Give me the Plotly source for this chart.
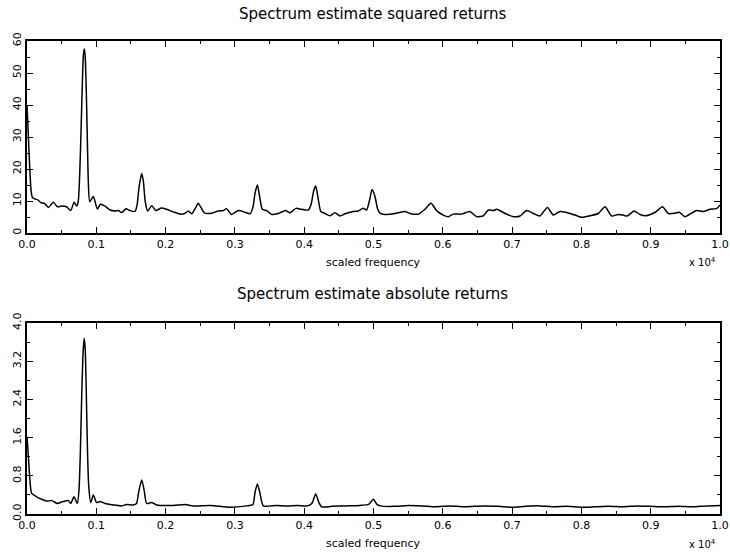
import plotly.graph_objects as go

# ---- data ----
freq_sq = [0.000, 0.002, 0.004, 0.006, 0.008, 0.012, 0.016, 0.020, 0.025, 0.031,
           0.038, 0.044, 0.050, 0.057, 0.063, 0.068, 0.0717, 0.074, 0.076, 0.078,
           0.080, 0.0815, 0.0828, 0.084, 0.0855, 0.087, 0.0885, 0.0905, 0.0957, 0.1015,
           0.106, 0.1126, 0.120, 0.127, 0.132, 0.1366, 0.143, 0.1486, 0.156, 0.159,
           0.1615, 0.1655, 0.168, 0.1705, 0.174, 0.180, 0.186, 0.194, 0.2016, 0.211,
           0.221, 0.227, 0.233, 0.2376, 0.243, 0.247, 0.251, 0.256, 0.2665, 0.276,
           0.283, 0.288, 0.295, 0.305, 0.3146, 0.3218, 0.326, 0.329, 0.3325, 0.336,
           0.3396, 0.346, 0.353, 0.3627, 0.373, 0.3795, 0.388, 0.396, 0.406, 0.410,
           0.4135, 0.4166, 0.420, 0.424, 0.430, 0.437, 0.4444, 0.4517, 0.459, 0.471,
           0.478, 0.485, 0.490, 0.494, 0.498, 0.502, 0.506, 0.509, 0.5166, 0.531,
           0.5455, 0.5527, 0.5647, 0.574, 0.583, 0.591, 0.6007, 0.608, 0.615, 0.627,
           0.639, 0.649, 0.6585, 0.6657, 0.673, 0.678, 0.690, 0.7017, 0.7114, 0.721,
           0.7306, 0.740, 0.751, 0.7595, 0.769, 0.7788, 0.788, 0.800, 0.8124, 0.8244,
           0.834, 0.8437, 0.853, 0.860, 0.8663, 0.876, 0.8846, 0.893, 0.906, 0.917,
           0.9254, 0.935, 0.9413, 0.9495, 0.959, 0.9664, 0.976, 0.9856, 0.995, 1.000]
spec_sq = [40.0, 30.0, 20.0, 13.0, 11.0, 10.6, 10.3, 9.5, 9.3, 8.0,
           9.6, 8.2, 8.4, 8.2, 7.0, 9.6, 8.4, 10.0, 18.0, 32.0,
           48.0, 56.0, 57.5, 55.0, 45.0, 30.0, 16.0, 9.8, 11.4, 7.5,
           9.0, 8.4, 7.2, 6.9, 7.0, 6.4, 7.6, 7.0, 6.8, 9.0,
           14.0, 18.6, 16.0, 10.0, 6.9, 8.5, 7.0, 7.8, 7.4, 6.6,
           5.9, 6.0, 6.9, 6.0, 7.8, 9.3, 8.0, 6.3, 6.2, 6.9,
           7.0, 7.6, 5.8, 7.0, 6.5, 6.0, 8.0, 12.4, 15.0, 11.0,
           7.4, 7.0, 5.8, 6.1, 7.0, 6.3, 7.7, 7.4, 7.2, 9.0,
           13.0, 14.7, 11.0, 6.7, 6.1, 5.4, 6.3, 5.3, 6.0, 6.7,
           6.9, 7.7, 7.2, 10.0, 13.6, 11.5, 7.5, 6.3, 5.8, 6.1,
           6.7, 6.1, 5.9, 7.4, 9.3, 7.0, 5.6, 5.1, 5.9, 5.9,
           6.7, 5.1, 5.4, 7.2, 7.0, 7.4, 6.1, 5.1, 5.3, 7.0,
           6.1, 5.3, 8.0, 5.6, 6.7, 6.4, 5.8, 4.9, 5.4, 6.1,
           8.2, 5.3, 5.8, 5.6, 5.3, 6.9, 5.8, 5.4, 6.4, 8.2,
           6.1, 6.2, 6.5, 5.1, 6.2, 7.0, 6.7, 7.4, 7.6, 8.8]

freq_abs = [0.000, 0.002, 0.004, 0.0068, 0.014, 0.021, 0.0284, 0.036, 0.0438, 0.052,
            0.0596, 0.063, 0.0678, 0.0726, 0.075, 0.077, 0.079, 0.081, 0.0825, 0.084,
            0.0855, 0.087, 0.089, 0.092, 0.0957, 0.1005, 0.106, 0.1126, 0.1245, 0.1366,
            0.1438, 0.153, 0.158, 0.161, 0.1655, 0.169, 0.1727, 0.180, 0.187, 0.211,
            0.228, 0.240, 0.265, 0.293, 0.317, 0.326, 0.329, 0.3324, 0.336, 0.341,
            0.360, 0.375, 0.390, 0.405, 0.411, 0.4166, 0.421, 0.425, 0.440, 0.460,
            0.480, 0.493, 0.4998, 0.505, 0.510, 0.530, 0.550, 0.570, 0.590, 0.610,
            0.630, 0.660, 0.680, 0.700, 0.720, 0.740, 0.760, 0.780, 0.800, 0.820,
            0.840, 0.860, 0.880, 0.900, 0.920, 0.940, 0.960, 0.980, 1.000]
spec_abs = [1.62, 1.20, 0.75, 0.43, 0.36, 0.31, 0.27, 0.28, 0.22, 0.26,
            0.28, 0.22, 0.36, 0.22, 0.50, 1.30, 2.50, 3.40, 3.68, 3.45,
            2.60, 1.50, 0.60, 0.24, 0.40, 0.24, 0.26, 0.22, 0.19, 0.17,
            0.20, 0.19, 0.22, 0.45, 0.71, 0.50, 0.22, 0.24, 0.19, 0.18,
            0.20, 0.17, 0.18, 0.14, 0.17, 0.20, 0.45, 0.63, 0.45, 0.17,
            0.18, 0.17, 0.18, 0.17, 0.22, 0.42, 0.25, 0.15, 0.16, 0.17,
            0.18, 0.20, 0.31, 0.20, 0.17, 0.16, 0.18, 0.17, 0.15, 0.17,
            0.15, 0.17, 0.16, 0.14, 0.16, 0.17, 0.15, 0.16, 0.14, 0.15,
            0.16, 0.15, 0.17, 0.16, 0.15, 0.16, 0.15, 0.17, 0.18]

titles = ["Spectrum estimate squared returns", "Spectrum estimate absolute returns"]
x_label = "scaled frequency"
x_ticks = [0.0, 0.1, 0.2, 0.3, 0.4, 0.5, 0.6, 0.7, 0.8, 0.9, 1.0]
y_ticks_sq = [0, 10, 20, 30, 40, 50, 60]
y_ticks_abs = [0.0, 0.8, 1.6, 2.4, 3.2, 4.0]

W, H = 730, 552
FONT = "DejaVu Sans"

fig = go.Figure()
fig.add_trace(go.Scatter(x=freq_sq, y=spec_sq, mode="lines",
                         line=dict(color="black", width=1.5, shape="spline", smoothing=0.6),
                         xaxis="x", yaxis="y", showlegend=False))
fig.add_trace(go.Scatter(x=freq_abs, y=spec_abs, mode="lines",
                         line=dict(color="black", width=1.5, shape="spline", smoothing=0.6),
                         xaxis="x2", yaxis="y2", showlegend=False))

def px_x(p):
    return p / W

def px_y(p):
    return 1 - p / H

x_dom = [px_x(27), px_x(720)]
top_dom = [px_y(233), px_y(41)]
bot_dom = [px_y(514), px_y(323)]

axis_common = dict(showline=True, linewidth=2, linecolor="black", mirror="ticks",
                   ticks="inside", ticklen=6, tickwidth=1, tickcolor="black",
                   showgrid=False, zeroline=False, automargin=False,
                   tickfont=dict(family=FONT, size=11, color="black"))

fig.update_layout(
    template="none",
    width=W, height=H,
    margin=dict(l=0, r=0, t=0, b=0, pad=0),
    paper_bgcolor="white", plot_bgcolor="white",
    xaxis=dict(domain=x_dom, range=[0, 1], tickvals=x_ticks, tickformat=".1f",
               anchor="y", minor=dict(dtick=0.05, ticklen=3, tickcolor="black", ticks="inside"),
               **axis_common),
    yaxis=dict(domain=top_dom, range=[0, 60], tickvals=y_ticks_sq, tickangle=-90,
               anchor="x", minor=dict(dtick=5, ticklen=3, tickcolor="black", ticks="inside"),
               **axis_common),
    xaxis2=dict(domain=x_dom, range=[0, 1], tickvals=x_ticks, tickformat=".1f",
                anchor="y2", minor=dict(dtick=0.05, ticklen=3, tickcolor="black", ticks="inside"),
                **axis_common),
    yaxis2=dict(domain=bot_dom, range=[0, 4.0], tickvals=y_ticks_abs, tickformat=".1f",
                tickangle=-90, anchor="x2",
                minor=dict(dtick=0.4, ticklen=3, tickcolor="black", ticks="inside"),
                **axis_common),
)

ann = []
for t, yy in zip(titles, [14, 294]):
    ann.append(dict(text=t, x=px_x(373), y=px_y(yy), xref="paper", yref="paper",
                    showarrow=False, xanchor="center", yanchor="middle",
                    font=dict(family=FONT, size=15, color="black")))
for yy in [262, 543]:
    ann.append(dict(text=x_label, x=px_x(373), y=px_y(yy), xref="paper", yref="paper",
                    showarrow=False, xanchor="center", yanchor="middle",
                    font=dict(family=FONT, size=11, color="black")))
for yy in [262, 544]:
    ann.append(dict(text="x 10<sup>4</sup>", x=px_x(718), y=px_y(yy), xref="paper", yref="paper",
                    showarrow=False, xanchor="right", yanchor="middle",
                    font=dict(family=FONT, size=10, color="black")))
fig.update_layout(annotations=ann)

fig.write_html("out.html", config={"displayModeBar": False},
               post_script="document.body.style.margin='0';document.body.style.overflow='hidden';")
